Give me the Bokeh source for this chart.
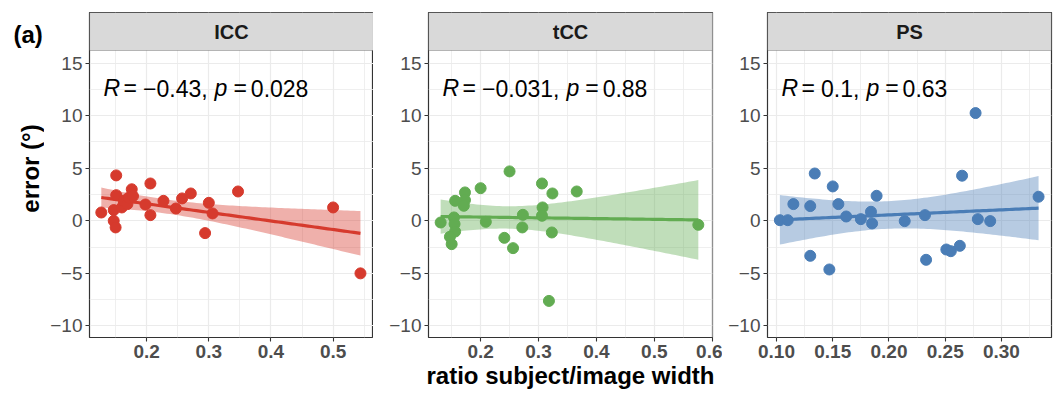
import numpy as np
from bokeh.plotting import figure
from bokeh.models import FixedTicker, Label, BoxAnnotation, Range1d
from bokeh.layouts import row
from bokeh.embed import file_html
from bokeh.resources import INLINE

# ---------------- data ----------------
panel_names = ["ICC", "tCC", "PS"]

icc_x = [0.127, 0.147, 0.147, 0.150, 0.151, 0.151, 0.160, 0.163, 0.169, 0.171, 0.176, 0.178,
         0.198, 0.206, 0.206, 0.227, 0.247, 0.257, 0.271, 0.294, 0.300, 0.306, 0.347, 0.500, 0.544]
icc_y = [0.79, 1.02, 0.00, -0.63, 4.32, 2.44, 1.27, 1.90, 1.59, 2.20, 3.00, 2.35,
         1.55, 3.55, 0.54, 1.90, 1.17, 2.13, 2.60, -1.17, 1.71, 0.70, 2.79, 1.27, -5.00]

tcc_x = [0.131, 0.156, 0.173, 0.173, 0.171, 0.200, 0.250, 0.154, 0.155, 0.156, 0.147, 0.150,
         0.209, 0.241, 0.256, 0.273, 0.272, 0.306, 0.324, 0.307, 0.306, 0.323, 0.318, 0.366, 0.576]
tcc_y = [-0.16, 1.90, 2.70, 1.97, 1.43, 3.10, 4.70, 0.32, -0.30, -1.02, -1.52, -2.22,
         -0.10, -1.62, -2.60, 0.57, -0.63, 3.55, 2.60, 1.27, 0.48, -1.11, -7.62, 2.79, -0.38]

ps_x = [0.103, 0.110, 0.115, 0.130, 0.134, 0.130, 0.147, 0.150, 0.155, 0.162, 0.175, 0.184,
        0.185, 0.189, 0.214, 0.232, 0.233, 0.251, 0.255, 0.263, 0.265, 0.277, 0.279, 0.290, 0.333]
ps_y = [0.06, 0.06, 1.59, 1.40, 4.50, -3.33, -4.63, 3.27, 1.59, 0.41, 0.16, 0.86,
        -0.25, 2.38, -0.03, 0.54, -3.71, -2.73, -2.89, -2.38, 4.29, 10.25, 0.16, -0.03, 2.29]

stat_r = ["\u22120.43,", "\u22120.031,", "0.1,"]
stat_p = ["0.028", "0.88", "0.63"]

y_ticks = [-10, -5, 0, 5, 10, 15]
y_tick_labels = ["\u221210", "\u22125", "0", "5", "10", "15"]
y_minor = [-7.5, -2.5, 2.5, 7.5, 12.5]

x_ticks_icc = [0.2, 0.3, 0.4, 0.5]
x_labels_icc = ["0.2", "0.3", "0.4", "0.5"]
x_minor_icc = [0.15, 0.25, 0.35, 0.45, 0.55]
x_ticks_tcc = [0.2, 0.3, 0.4, 0.5, 0.6]
x_labels_tcc = ["0.2", "0.3", "0.4", "0.5", "0.6"]
x_minor_tcc = [0.15, 0.25, 0.35, 0.45, 0.55]
x_ticks_ps = [0.10, 0.15, 0.20, 0.25, 0.30]
x_labels_ps = ["0.10", "0.15", "0.20", "0.25", "0.30"]
x_minor_ps = [0.125, 0.175, 0.225, 0.275, 0.325]

x_ranges = [(0.108, 0.565), (0.110, 0.6005), (0.092, 0.3445)]
y_panel = (-11.1, 16.2)
colors = ["#D63A2D", "#62AC52", "#4A7DB6"]

x_title = "ratio subject/image width"
y_title = "error (\u00b0)"
tag = "(a)"

xs_all = [icc_x, tcc_x, ps_x]
ys_all = [icc_y, tcc_y, ps_y]
xt_all = [x_ticks_icc, x_ticks_tcc, x_ticks_ps]
xl_all = [x_labels_icc, x_labels_tcc, x_labels_ps]
xm_all = [x_minor_icc, x_minor_tcc, x_minor_ps]

# ---------------- layout constants ----------------
FONT = "Liberation Sans"
FRAME_W = 284
FRAME_H = 325
STRIP_PX = 38
LEFT_W = 44
BORDER_L = [89 - LEFT_W, 55, 45]
BORDER_R = [0, 10, 8]
TOP = 12
BOTTOM = 63
FS = 23  # annotation font size
TOTAL_H = TOP + FRAME_H + BOTTOM

W = {"0": .556, "1": .556, "2": .556, "3": .556, "4": .556, "5": .556, "6": .556, "7": .556,
     "8": .556, "9": .556, ".": .278, ",": .278, "\u2212": .584, "=": .584, " ": .278,
     "R": .722, "p": .556}


def tw(s):
    return sum(W.get(c, .556) for c in s) * FS


def t_crit(df):
    z = 1.959964
    return z + (z**3 + z) / (4 * df) + (5 * z**5 + 16 * z**3 + 3 * z) / (96 * df**2)


# left strip holding the panel tag and the y-axis title
left = figure(width=LEFT_W, height=TOTAL_H, x_range=Range1d(0, LEFT_W), y_range=Range1d(0, TOTAL_H),
              output_backend="svg", toolbar_location=None,
              min_border_left=0, min_border_right=0, min_border_top=0, min_border_bottom=0)
left.axis.visible = False
left.grid.visible = False
left.outline_line_color = None
left.background_fill_color = "white"
left.border_fill_color = "white"
left.add_layout(Label(x=13, y=TOTAL_H - 11, text=tag, text_font=FONT, text_font_size="24px",
                      text_font_style="bold", text_baseline="top", text_color="black"))
left.add_layout(Label(x=30, y=TOTAL_H - 192, text=y_title, text_font=FONT, text_font_size="24px",
                      text_font_style="bold", text_align="center", text_baseline="middle",
                      angle=np.pi / 2, text_color="black"))

figs = [left]
for i in range(3):
    x = np.array(xs_all[i], dtype=float)
    y = np.array(ys_all[i], dtype=float)
    col = colors[i]
    x0, x1 = x_ranges[i]
    px_per_unit = (FRAME_H - STRIP_PX) / (y_panel[1] - y_panel[0])
    y_top = y_panel[1] + STRIP_PX / px_per_unit

    p = figure(width=BORDER_L[i] + FRAME_W + BORDER_R[i], height=TOTAL_H,
               x_range=Range1d(x0, x1), y_range=Range1d(y_panel[0], y_top),
               output_backend="svg", toolbar_location=None,
               min_border_left=BORDER_L[i], min_border_right=BORDER_R[i],
               min_border_top=TOP, min_border_bottom=BOTTOM)
    p.background_fill_color = "white"
    p.border_fill_color = "white"
    p.outline_line_color = "#333333"
    p.outline_line_width = 1.2

    p.xaxis.ticker = FixedTicker(ticks=xt_all[i], minor_ticks=xm_all[i])
    p.yaxis.ticker = FixedTicker(ticks=y_ticks, minor_ticks=y_minor)
    p.xaxis.major_label_overrides = {t: l for t, l in zip(xt_all[i], xl_all[i])}
    p.yaxis.major_label_overrides = {t: l for t, l in zip(y_ticks, y_tick_labels)}

    for ax in (p.xaxis, p.yaxis):
        ax.axis_line_color = None
        ax.major_tick_line_color = "#333333"
        ax.major_tick_line_width = 1.1
        ax.major_tick_out = 4
        ax.major_tick_in = 0
        ax.minor_tick_line_color = None
        ax.major_label_text_font = FONT
        ax.major_label_text_color = "#4D4D4D"
        ax.major_label_text_font_size = "19px"
        ax.major_label_standoff = 3
    p.xaxis.major_label_text_font_style = "bold"

    for g in (p.xgrid, p.ygrid):
        g.grid_line_color = "#EBEBEB"
        g.grid_line_width = 1.2
        g.minor_grid_line_color = "#EBEBEB"
        g.minor_grid_line_width = 0.8

    if i == 1:
        p.xaxis.axis_label = x_title
        p.xaxis.axis_label_text_font = FONT
        p.xaxis.axis_label_text_font_size = "24px"
        p.xaxis.axis_label_text_font_style = "bold"
        p.xaxis.axis_label_text_color = "black"
        p.xaxis.axis_label_standoff = 1

    # regression with 95% confidence band
    n = len(x)
    b1, b0 = np.polyfit(x, y, 1)
    resid = y - (b0 + b1 * x)
    s = np.sqrt(np.sum(resid**2) / (n - 2))
    sxx = np.sum((x - x.mean())**2)
    xg = np.linspace(x.min(), x.max(), 80)
    fit = b0 + b1 * xg
    se = s * np.sqrt(1.0 / n + (xg - x.mean())**2 / sxx)
    tc = t_crit(n - 2)
    p.varea(x=xg, y1=fit - tc * se, y2=fit + tc * se, fill_color=col, fill_alpha=0.4)
    p.line(xg, fit, line_color=col, line_width=3.2)
    p.scatter(x, y, size=11, fill_color=col, line_color=col)

    # strip header
    p.add_layout(BoxAnnotation(bottom=y_panel[1], fill_color="#D9D9D9", fill_alpha=1.0,
                               line_color="#333333", line_width=1.2, level="annotation"))
    p.add_layout(Label(x=(x0 + x1) / 2, y=(y_panel[1] + y_top) / 2, text=panel_names[i],
                       text_font=FONT, text_font_size="20px", text_font_style="bold",
                       text_align="center", text_baseline="middle", text_color="#1A1A1A"))

    # correlation annotation (R and p italic)
    ty = 12.6
    base = 14
    o_eq1 = tw("R") + 3.5
    o_r = o_eq1 + tw("=") + 6
    o_p = o_r + tw(stat_r[i]) + 7
    o_eq2 = o_p + tw("p") + 6
    o_pv = o_eq2 + tw("=") + 4
    toks = [("R", "italic", 0), ("=", "normal", o_eq1), (stat_r[i], "normal", o_r),
            ("p", "italic", o_p), ("=", "normal", o_eq2), (stat_p[i], "normal", o_pv)]
    for txt, sty, off in toks:
        p.add_layout(Label(x=x0, y=ty, x_offset=base + off, text=txt, text_font=FONT,
                           text_font_size=f"{FS}px", text_font_style=sty,
                           text_color="black", text_baseline="alphabetic"))
    figs.append(p)

layout = row(*figs)
open("out.html", "w").write(file_html(layout, INLINE))
